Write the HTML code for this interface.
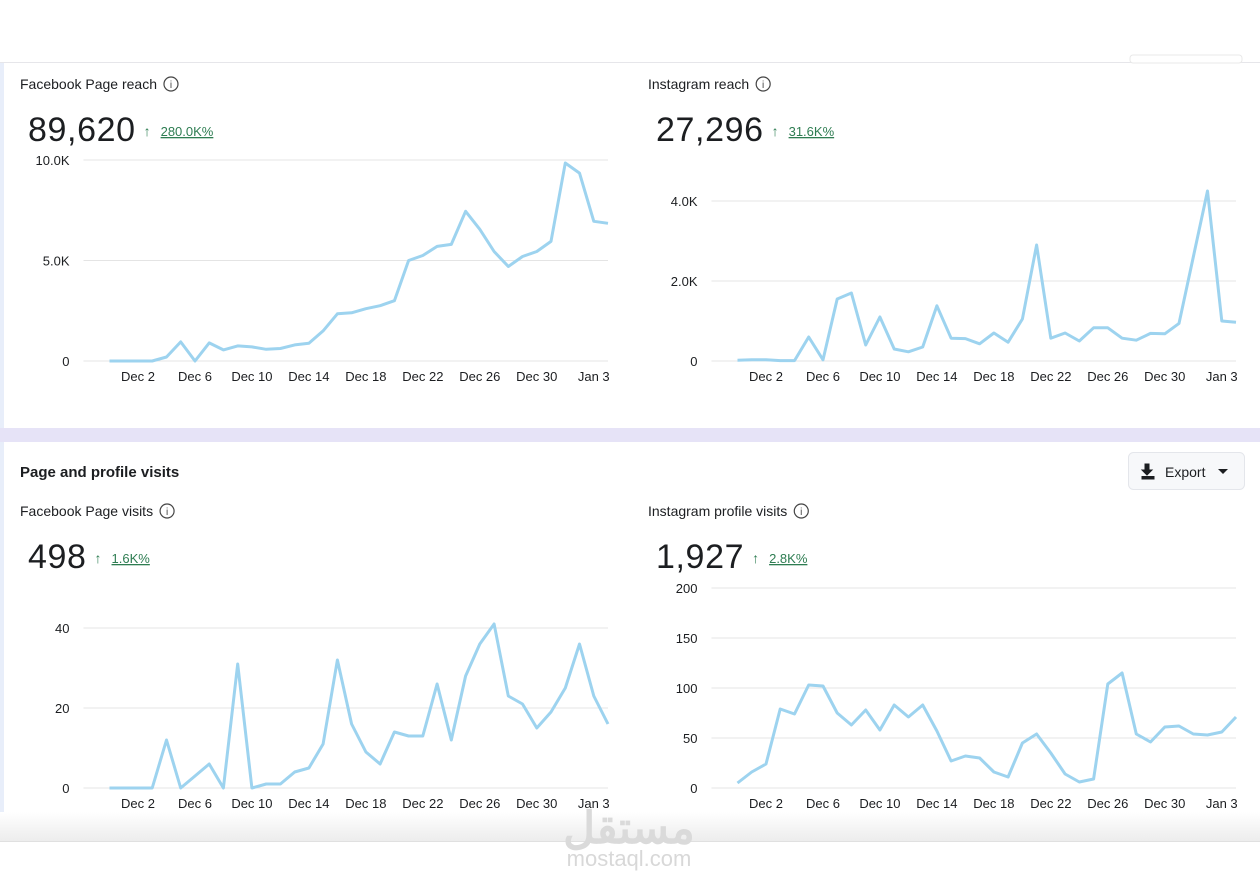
<!DOCTYPE html>
<html><head><meta charset="utf-8"><style>
html,body{margin:0;padding:0;width:1260px;height:890px;overflow:hidden;background:#fff;font-family:"Liberation Sans","Noto Sans CJK SC",sans-serif}
svg{display:block}
</style></head><body>
<svg id="root" width="1260" height="890" xmlns="http://www.w3.org/2000/svg">
<defs>
<linearGradient id="bot" x1="0" y1="0" x2="0" y2="1"><stop offset="0" stop-color="#fff"/><stop offset="1" stop-color="#ececec"/></linearGradient>
</defs>
<rect x="0" y="0" width="1260" height="890" fill="#fff"/>
<rect x="0" y="62" width="1260" height="1" fill="#e6e6ea"/>
<rect x="0" y="63" width="4" height="365" fill="#e8eefa"/>
<rect x="0" y="428" width="1260" height="14" fill="#e6e3f7"/>
<rect x="0" y="442" width="4" height="375" fill="#e8eefa"/>
<rect x="0" y="812" width="1260" height="30" fill="url(#bot)"/>
<rect x="0" y="841" width="1260" height="1" fill="#e0e0e0"/>
<rect x="1130" y="55" width="112" height="8" rx="3" fill="#fff" stroke="#e8e8e8"/>
<text x="20" y="477" font-size="15" font-weight="bold" fill="#1c1e21">Page and profile visits</text>
<g>
<rect x="1128.5" y="452.5" width="116" height="37" rx="5" fill="#f7f8fa" stroke="#e4e6eb"/>
<path d="M1145 464h4v6h3l-5 5-5-5h3z M1142 476v3h12v-3" fill="#1c1e21" stroke="#1c1e21" stroke-width="1"/>
<text x="1165" y="477" font-size="14" fill="#1c1e21">Export</text>
<path d="M1218 469h10l-5 5z" fill="#1c1e21"/>
</g>
<text x="629" y="843" font-size="44" font-weight="bold" fill="#dadada" text-anchor="middle">مستقل</text>
<text x="629" y="866" font-size="22" fill="#d8d8d8" text-anchor="middle">mostaql.com</text>
<g id="charts"></g>
</svg>
<script>
const dates=["Dec 2","Dec 6","Dec 10","Dec 14","Dec 18","Dec 22","Dec 26","Dec 30","Jan 3"];
const fbReach=[0,0,0,0,200,950,0,900,550,750,700,580,620,800,880,1500,2350,2400,2600,2750,3000,5000,5250,5700,5800,7450,6550,5450,4700,5200,5450,5950,9850,9350,6950,6850];
const igReach=[20,30,30,10,10,600,30,1550,1700,400,1100,300,230,350,1380,570,560,430,700,470,1050,2900,570,700,500,830,830,570,520,690,680,940,2600,4250,1000,970];
const fbVisits=[0,0,0,0,12,0,3,6,0,31,0,1,1,4,5,11,32,16,9,6,14,13,13,26,12,28,36,41,23,21,15,19,25,36,23,16];
const igVisits=[5,16,24,79,74,103,102,75,63,78,58,83,71,83,57,27,32,30,16,11,45,54,35,14,6,9,104,115,54,46,61,62,54,53,56,71];
const fbReachTicks=[0,5000,10000];const fbReachLabels=["0","5.0K","10.0K"];
const igReachTicks=[0,2000,4000];const igReachLabels=["0","2.0K","4.0K"];
const fbVisitTicks=[0,20,40];const fbVisitLabels=["0","20","40"];
const igVisitTicks=[0,50,100,150,200];const igVisitLabels=["0","50","100","150","200"];
const NS="http://www.w3.org/2000/svg";
const g=document.getElementById('charts');
function mk(t,a,txt){const e=document.createElementNS(NS,t);for(const k in a)e.setAttribute(k,a[k]);if(txt!==undefined)e.textContent=txt;g.appendChild(e);return e;}
function chart(o){
  const {left,x0,x1,y0,yTopPx,yTopVal,ticks,labels,vals,title,big,pct,ty,name}=o;
  const xs=i=>x0+(x1-x0)*i/(vals.length-1);
  const ys=v=>y0-(y0-yTopPx)*v/yTopVal;
  let t=mk('text',{x:left,y:ty,'font-size':14,fill:'#1c1e21'},title);
  
  
  const tw=t.getComputedTextLength();
  let ic=mk('circle',{cx:left+tw+14,cy:ty-5,r:7,fill:'none',stroke:'#444','stroke-width':1.2});
  
  
  mk('text',{x:left+tw+14,y:ty-1,'font-size':10,fill:'#444','text-anchor':'middle'},'i');
  let b=mk('text',{x:left+8,y:ty+52,'font-size':34,fill:'#1c1e21','letter-spacing':'0.6'},big);
  
  
  const bw=b.getComputedTextLength();
  mk('text',{x:left+8+bw+8,y:ty+47,'font-size':14,fill:'#2e7d52'},'↑');
  const ps=mk('text',{x:left+8+bw+25,y:ty+47,'font-size':13,fill:'#2e7d52','text-decoration':'underline','text-decoration-style':'dotted'},pct);
  
  
  ticks.forEach((v,i)=>{
    const y=ys(v);
    const l=mk('line',{x1:x0-26,x2:x1,y1:y,y2:y,stroke:'#e4e4e4','stroke-width':1});
    
    
    const tl=mk('text',{x:x0-40,y:y+5,'font-size':13,fill:'#1c1e21','text-anchor':'end'},labels[i]);
    
    
  });
  dates.forEach((d,i)=>{
    const xl=mk('text',{x:xs(2+4*i),y:y0+20,'font-size':13,fill:'#1c1e21','text-anchor':'middle'},d);
    
    
  });
  const pts=vals.map((v,i)=>xs(i).toFixed(1)+','+ys(v).toFixed(1)).join(' ');
  const pl=mk('polyline',{points:pts,fill:'none',stroke:'#9dd3ef','stroke-width':3,'stroke-linejoin':'round'});
  
  
}
chart({name:'facebook-reach',left:20,ty:89,x0:109.5,x1:608,y0:361,yTopPx:160,yTopVal:10000,ticks:fbReachTicks,labels:fbReachLabels,vals:fbReach,title:'Facebook Page reach',big:'89,620',pct:'280.0K%'});
chart({name:'instagram-reach',left:648,ty:89,x0:737.5,x1:1236,y0:361,yTopPx:201,yTopVal:4000,ticks:igReachTicks,labels:igReachLabels,vals:igReach,title:'Instagram reach',big:'27,296',pct:'31.6K%'});
chart({name:'facebook-visits',left:20,ty:516,x0:109.5,x1:608,y0:788,yTopPx:628,yTopVal:40,ticks:fbVisitTicks,labels:fbVisitLabels,vals:fbVisits,title:'Facebook Page visits',big:'498',pct:'1.6K%'});
chart({name:'instagram-visits',left:648,ty:516,x0:737.5,x1:1236,y0:788,yTopPx:588,yTopVal:200,ticks:igVisitTicks,labels:igVisitLabels,vals:igVisits,title:'Instagram profile visits',big:'1,927',pct:'2.8K%'});
</script>
</body></html>
